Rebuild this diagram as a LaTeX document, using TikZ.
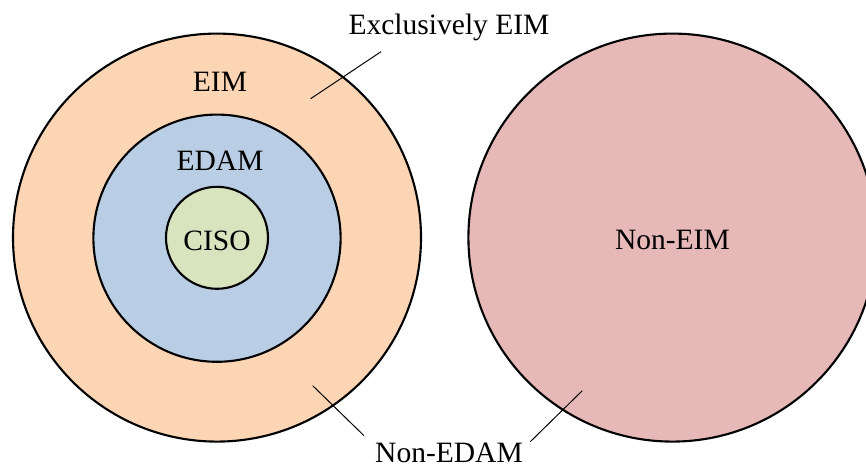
\documentclass[tikz,border=0pt]{standalone}
\usepackage{fontspec}
\setmainfont{Liberation Serif}
\usepackage{tikz}

\definecolor{eimfill}{HTML}{FCD5B5}
\definecolor{edamfill}{HTML}{B9CDE5}
\definecolor{cisofill}{HTML}{D7E4BD}
\definecolor{noneimfill}{HTML}{E6B9B8}

\begin{document}
\begin{tikzpicture}[
  ring/.style={draw=black,line width=1.5pt},
  lbl/.style={anchor=base,inner sep=0pt,font=\fontsize{21}{25}\selectfont},
  leader/.style={draw=black,line width=0.7pt}]
\useasboundingbox (0,0) rectangle (21.65,11.725);
\clip (0,0) rectangle (21.65,11.725);
\filldraw[ring,fill=eimfill] (5.425,5.785) circle (5.1cm);
\filldraw[ring,fill=edamfill] (5.425,5.77) circle (3.09cm);
\filldraw[ring,fill=cisofill] (5.425,5.78) circle (1.275cm);
\filldraw[ring,fill=noneimfill] (16.81,5.785) circle (5.1cm);
\node[lbl] (eim) at (5.5,9.425) {EIM};
\node[lbl] (edam) at (5.5,7.45) {EDAM};
\node[lbl] (ciso) at (5.425,5.46) {CISO};
\node[lbl] (noneim) at (16.81,5.475) {Non-EIM};
\node[lbl] (excl) at (11.225,10.85) {Exclusively EIM};
\node[lbl] (nonedam) at (11.225,0.15) {Non-EDAM};
\coordinate (exclend) at (7.7675,9.2575);
\coordinate (exclstart) at (9.525,10.4325);
\coordinate (nedamA) at (7.8175,2.0825);
\coordinate (nedamAstart) at (9.1,0.8325);
\coordinate (nedamB) at (14.5575,1.9575);
\coordinate (nedamBstart) at (13.2575,0.6825);
\draw[leader] (exclstart) -- (exclend);
\draw[leader] (nedamAstart) -- (nedamA);
\draw[leader] (nedamBstart) -- (nedamB);
\end{tikzpicture}
\end{document}
